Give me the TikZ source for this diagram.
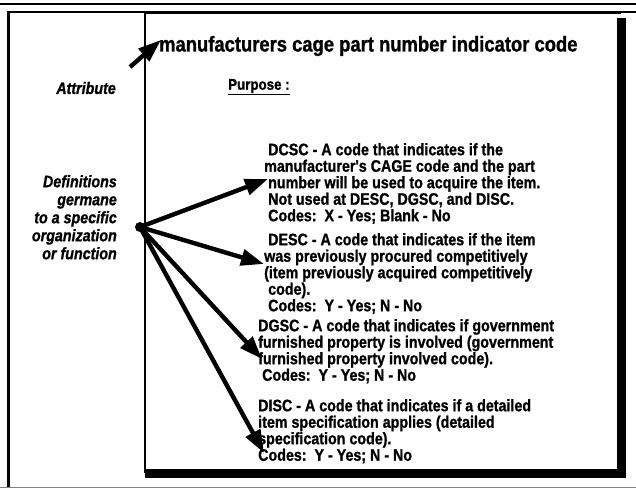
\documentclass[tikz,border=0pt]{standalone}
\usepackage{fontspec}
\setmainfont{Liberation Sans}
\newfontfamily\hcond[FakeStretch=0.86,FakeBold=1]{Liberation Sans}
\usetikzlibrary{arrows.meta}
\begin{document}
\begin{tikzpicture}[x=1pt,y=-1pt,
  body/.style={font=\hcond\bfseries\fontsize{16.6}{16.5}\selectfont, align=left, anchor=north west, inner sep=0pt},
  side/.style={font=\hcond\bfseries\itshape\fontsize{16.6}{18}\selectfont, align=right, anchor=north east, inner sep=0pt},
  arr/.style={line width=4.4pt, -{Triangle[length=23pt,width=16pt]}},
]
\useasboundingbox (0,0) rectangle (636,489);
% page frame
\draw[line width=2.5pt] (0,4) -- (636,4);
\draw[line width=1.5pt] (8,12) -- (636,12);
\draw[line width=3pt] (8,11) -- (8,487);
\draw[line width=1pt, black!50] (0,487.5) -- (636,487.5);
% inner box with heavy right/bottom edges
\fill[white] (145,13) rectangle (621,473);
\draw[line width=2.5pt] (145,13) -- (145,473);
\draw[line width=2pt] (145,13) -- (621,13);
\fill[black] (617,18) rectangle (626,478);
\fill[black] (145,469) rectangle (626,478);
% texts
\node[anchor=west, inner sep=0pt, font=\hcond\bfseries\fontsize{21.4}{22}\selectfont] (title) at (159,46) {manufacturers cage part number indicator code};
\node[side, anchor=east] (attr) at (116,88) {Attribute};
\node[anchor=west, inner sep=0pt, font=\hcond\bfseries\fontsize{15.5}{16}\selectfont] (purpose) at (228,87) {\underline{Purpose :}};
\node[side] (defs) at (117,175) {Definitions\\germane\\to a specific\\organization\\or function};
\node[body] (dcsc) at (264,143) {\hspace*{4pt}DCSC - A code that indicates if the\\manufacturer's CAGE code and the part\\\hspace*{4pt}number will be used to acquire the item.\\\hspace*{4pt}Not used at DESC, DGSC, and DISC.\\\hspace*{4pt}Codes:\ \ X - Yes; Blank - No};
\node[body] (desc) at (264,233) {\hspace*{4pt}DESC - A code that indicates if the item\\was previously procured competitively\\(item previously acquired competitively\\\hspace*{4pt}code).\\\hspace*{4pt}Codes:\ \ Y - Yes; N - No};
\node[body] (dgsc) at (258,319) {DGSC - A code that indicates if government\\furnished property is involved (government\\furnished property involved code).\\\hspace*{4pt}Codes:\ \ Y - Yes; N - No};
\node[body] (disc) at (258,399) {DISC - A code that indicates if a detailed\\item specification applies (detailed\\specification code).\\Codes:\ \ Y - Yes; N - No};
% connectors
\coordinate (a0) at (130,67);
\coordinate (a1) at (161,40);
\coordinate (hub) at (140,227);
\coordinate (t1) at (268,179);
\coordinate (t2) at (264,264);
\coordinate (t3) at (262,359);
\coordinate (t4) at (264,453);
\draw[arr] (a0) -- (a1);
\fill (hub) circle (5pt);
\draw[arr] (hub) -- (t1);
\draw[arr] (hub) -- (t2);
\draw[arr] (hub) -- (t3);
\draw[arr] (hub) -- (t4);
\end{tikzpicture}
\end{document}
